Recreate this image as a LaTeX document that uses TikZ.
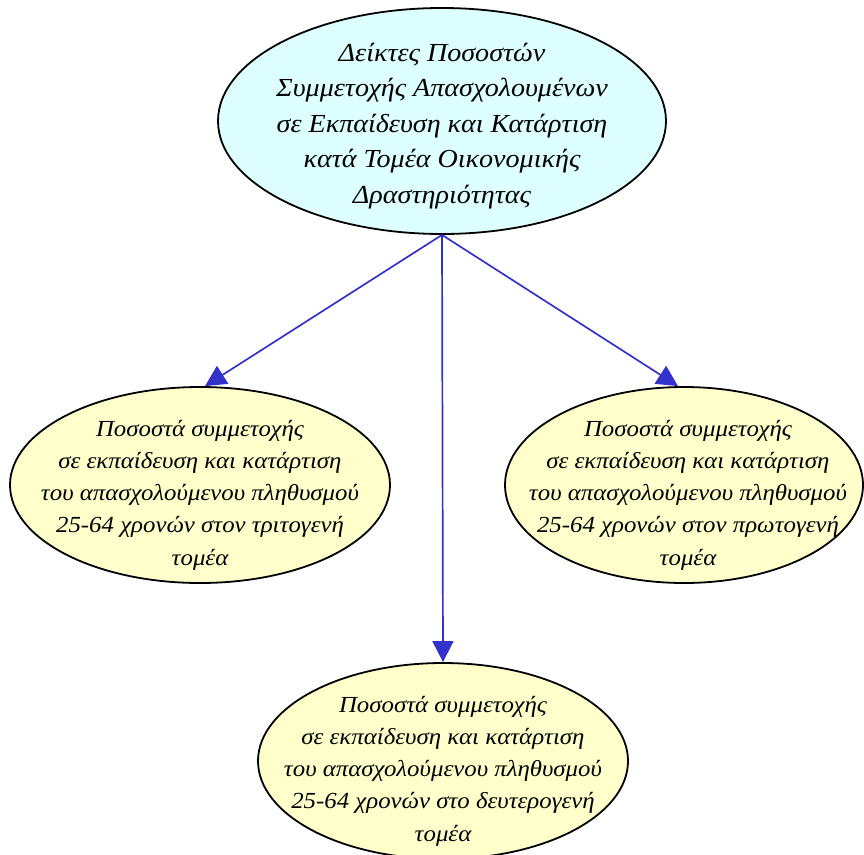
\documentclass[tikz,border=0pt]{standalone}
\usepackage{fontspec}
\setmainfont{Liberation Serif}[FakeStretch=1.08]
\usetikzlibrary{shapes.geometric,arrows.meta}
\definecolor{topfill}{HTML}{DDFFFF}
\definecolor{subfill}{HTML}{FFFFCC}
\definecolor{arrowblue}{HTML}{3333CC}
\begin{document}
\begin{tikzpicture}[x=1pt,y=-1pt,
  oval/.style={ellipse,draw=black,line width=1.8pt,inner sep=0pt},
  ovaltext/.style={align=center,font=\itshape\fontsize{23}{32.3}\selectfont,inner sep=0pt},
  conn/.style={draw=arrowblue,line width=1.7pt,-{Triangle[length=21pt,width=21pt]}}]
\useasboundingbox (0,0) rectangle (864,854);
\node[oval,fill=topfill,minimum width=448pt,minimum height=226pt] (top) at (442,121) {};
\node[oval,fill=subfill,minimum width=380pt,minimum height=196pt] (left) at (200,485) {};
\node[oval,fill=subfill,minimum width=358pt,minimum height=196pt] (right) at (684,485) {};
\node[oval,fill=subfill,minimum width=370pt,minimum height=196pt] (bottom) at (443,761) {};
\node[ovaltext,font=\itshape\fontsize{26}{35.5}\selectfont] (toptext) at (442,126) {Δείκτες Ποσοστών\\Συμμετοχής Απασχολουμένων\\σε Εκπαίδευση και Κατάρτιση\\κατά Τομέα Οικονομικής\\Δραστηριότητας};
\node[ovaltext] (lefttext) at (200,495) {Ποσοστά συμμετοχής\\σε εκπαίδευση και κατάρτιση\\του απασχολούμενου πληθυσμού\\25-64 χρονών στον τριτογενή\\τομέα};
\node[ovaltext] (righttext) at (688,495) {Ποσοστά συμμετοχής\\σε εκπαίδευση και κατάρτιση\\του απασχολούμενου πληθυσμού\\25-64 χρονών στον πρωτογενή\\τομέα};
\node[ovaltext] (bottomtext) at (443,771) {Ποσοστά συμμετοχής\\σε εκπαίδευση και κατάρτιση\\του απασχολούμενου πληθυσμού\\25-64 χρονών στο δευτερογενή\\τομέα};
\draw[conn] (top.south) -- ([xshift=5pt]left.north);
\draw[conn] (top.south) -- ([xshift=-6pt]right.north);
\draw[conn] (top.south) -- (bottom.north);
\end{tikzpicture}
\end{document}
